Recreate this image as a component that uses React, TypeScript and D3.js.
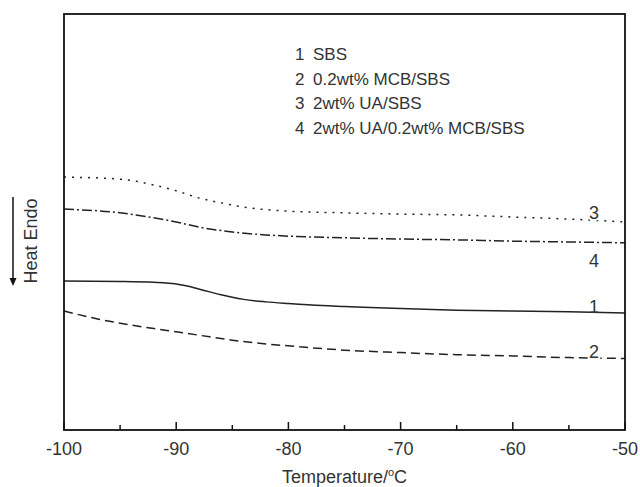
import React from "react";
import * as d3 from "d3";

// Temperature (°C) / heat flow (arbitrary units)
const temps3 = [-100, -95, -92, -90, -88, -86, -84, -80, -75, -70, -65, -60, -55, -50];
const vals3 = [6.08, 6.03, 5.89, 5.75, 5.58, 5.46, 5.36, 5.26, 5.22, 5.19, 5.17, 5.12, 5.07, 5.0];

const temps4 = [-100, -95, -92, -90, -88, -85, -82, -80, -75, -70, -65, -60, -55, -50];
const vals4 = [5.31, 5.22, 5.1, 5.0, 4.88, 4.76, 4.69, 4.66, 4.62, 4.59, 4.57, 4.54, 4.52, 4.5];

const temps1 = [-100, -95, -92, -90, -89, -88, -87, -86, -85, -84, -82, -80, -77, -75, -70, -65, -60, -55, -50];
const vals1 = [3.58, 3.57, 3.55, 3.51, 3.46, 3.39, 3.32, 3.25, 3.19, 3.14, 3.08, 3.04, 2.99, 2.97, 2.92, 2.88, 2.86, 2.84, 2.81];

const temps2 = [-100, -97, -94, -91, -88, -85, -82, -79, -75, -70, -65, -60, -55, -50];
const vals2 = [2.86, 2.67, 2.52, 2.4, 2.28, 2.16, 2.07, 2.0, 1.92, 1.86, 1.81, 1.78, 1.74, 1.72];

const legendNumbers = ["1", "2", "3", "4"];
const legendLabels = ["SBS", "0.2wt% MCB/SBS", "2wt% UA/SBS", "2wt% UA/0.2wt% MCB/SBS"];
const majorTicks = [-100, -90, -80, -70, -60, -50];
const minorTicks = [-95, -85, -75, -65, -55];

const W = 640;
const H = 487;
const M = { left: 64, right: 15, top: 14, bottom: 57 };
const FONT = "'Liberation Sans', Arial, Helvetica, sans-serif";

export default function App() {
  const x = d3.scaleLinear().domain([-100, -50]).range([M.left, W - M.right]);
  const y = d3.scaleLinear().domain([0, 10]).range([H - M.bottom, M.top]);
  const line = d3
    .line<[number, number]>()
    .x((d) => x(d[0]))
    .y((d) => y(d[1]))
    .curve(d3.curveMonotoneX);

  const series = [
    { id: "1", t: temps1, v: vals1, dash: "none" },
    { id: "2", t: temps2, v: vals2, dash: "9,5" },
    { id: "3", t: temps3, v: vals3, dash: "2,6" },
    { id: "4", t: temps4, v: vals4, dash: "10,3,2,3" },
  ];

  const labelPos: Record<string, number> = { "3": 219, "4": 267, "1": 313, "2": 358 };
  const x0 = M.left;
  const x1 = W - M.right;
  const yb = H - M.bottom;

  return (
    <svg width={W} height={H} style={{ display: "block", position: "absolute", left: 0, top: 0 }} fontFamily={FONT}>
      <style>{`body{margin:0}`}</style>
      <rect width={W} height={H} fill="#fff" />
      {series.map((s) => (
        <path
          key={s.id}
          d={line(s.t.map((t, i) => [t, s.v[i]] as [number, number])) || ""}
          fill="none"
          stroke="#222"
          strokeWidth={1.5}
          strokeDasharray={s.dash}
        />
      ))}
      {series.map((s) => (
        <text
          key={"l" + s.id}
          x={594}
          y={labelPos[s.id]}
          textAnchor="middle"
          fontSize={18}
          fill="#333"
          stroke={s.id === "1" ? "none" : "#fff"}
          strokeWidth={4}
          paintOrder="stroke"
        >
          {s.id}
        </text>
      ))}
      {/* frame */}
      <rect x={x0} y={M.top} width={x1 - x0} height={yb - M.top} fill="none" stroke="#111" strokeWidth={1.8} />
      {/* ticks */}
      {majorTicks.map((t) => (
        <line key={"M" + t} x1={x(t)} x2={x(t)} y1={yb} y2={yb - 8} stroke="#111" strokeWidth={1.5} />
      ))}
      {minorTicks.map((t) => (
        <line key={"m" + t} x1={x(t)} x2={x(t)} y1={yb} y2={yb - 5} stroke="#111" strokeWidth={1.5} />
      ))}
      {majorTicks.map((t) => (
        <text key={"t" + t} x={x(t)} y={455} textAnchor="middle" fontSize={18} fill="#333">
          {t}
        </text>
      ))}
      <text x={(x0 + x1) / 2} y={483} textAnchor="middle" fontSize={18} fill="#333">
        Temperature/
        <tspan dy={-7} fontSize={11}>o</tspan>
        <tspan dy={7}>C</tspan>
      </text>
      {/* y label */}
      <text transform="translate(37,241) rotate(-90)" textAnchor="middle" fontSize={18} fill="#333">
        Heat Endo
      </text>
      <line x1={13} x2={13} y1={197} y2={279} stroke="#111" strokeWidth={1.5} />
      <path d="M9.5,278 L16.5,278 L13,286 Z" fill="#111" />
      {/* legend */}
      {legendLabels.map((lab, i) => (
        <g key={"lg" + i} fontSize={17} fill="#333">
          <text x={295} y={60 + i * 24.7}>{legendNumbers[i]}</text>
          <text x={313} y={60 + i * 24.7}>{lab}</text>
        </g>
      ))}
    </svg>
  );
}
